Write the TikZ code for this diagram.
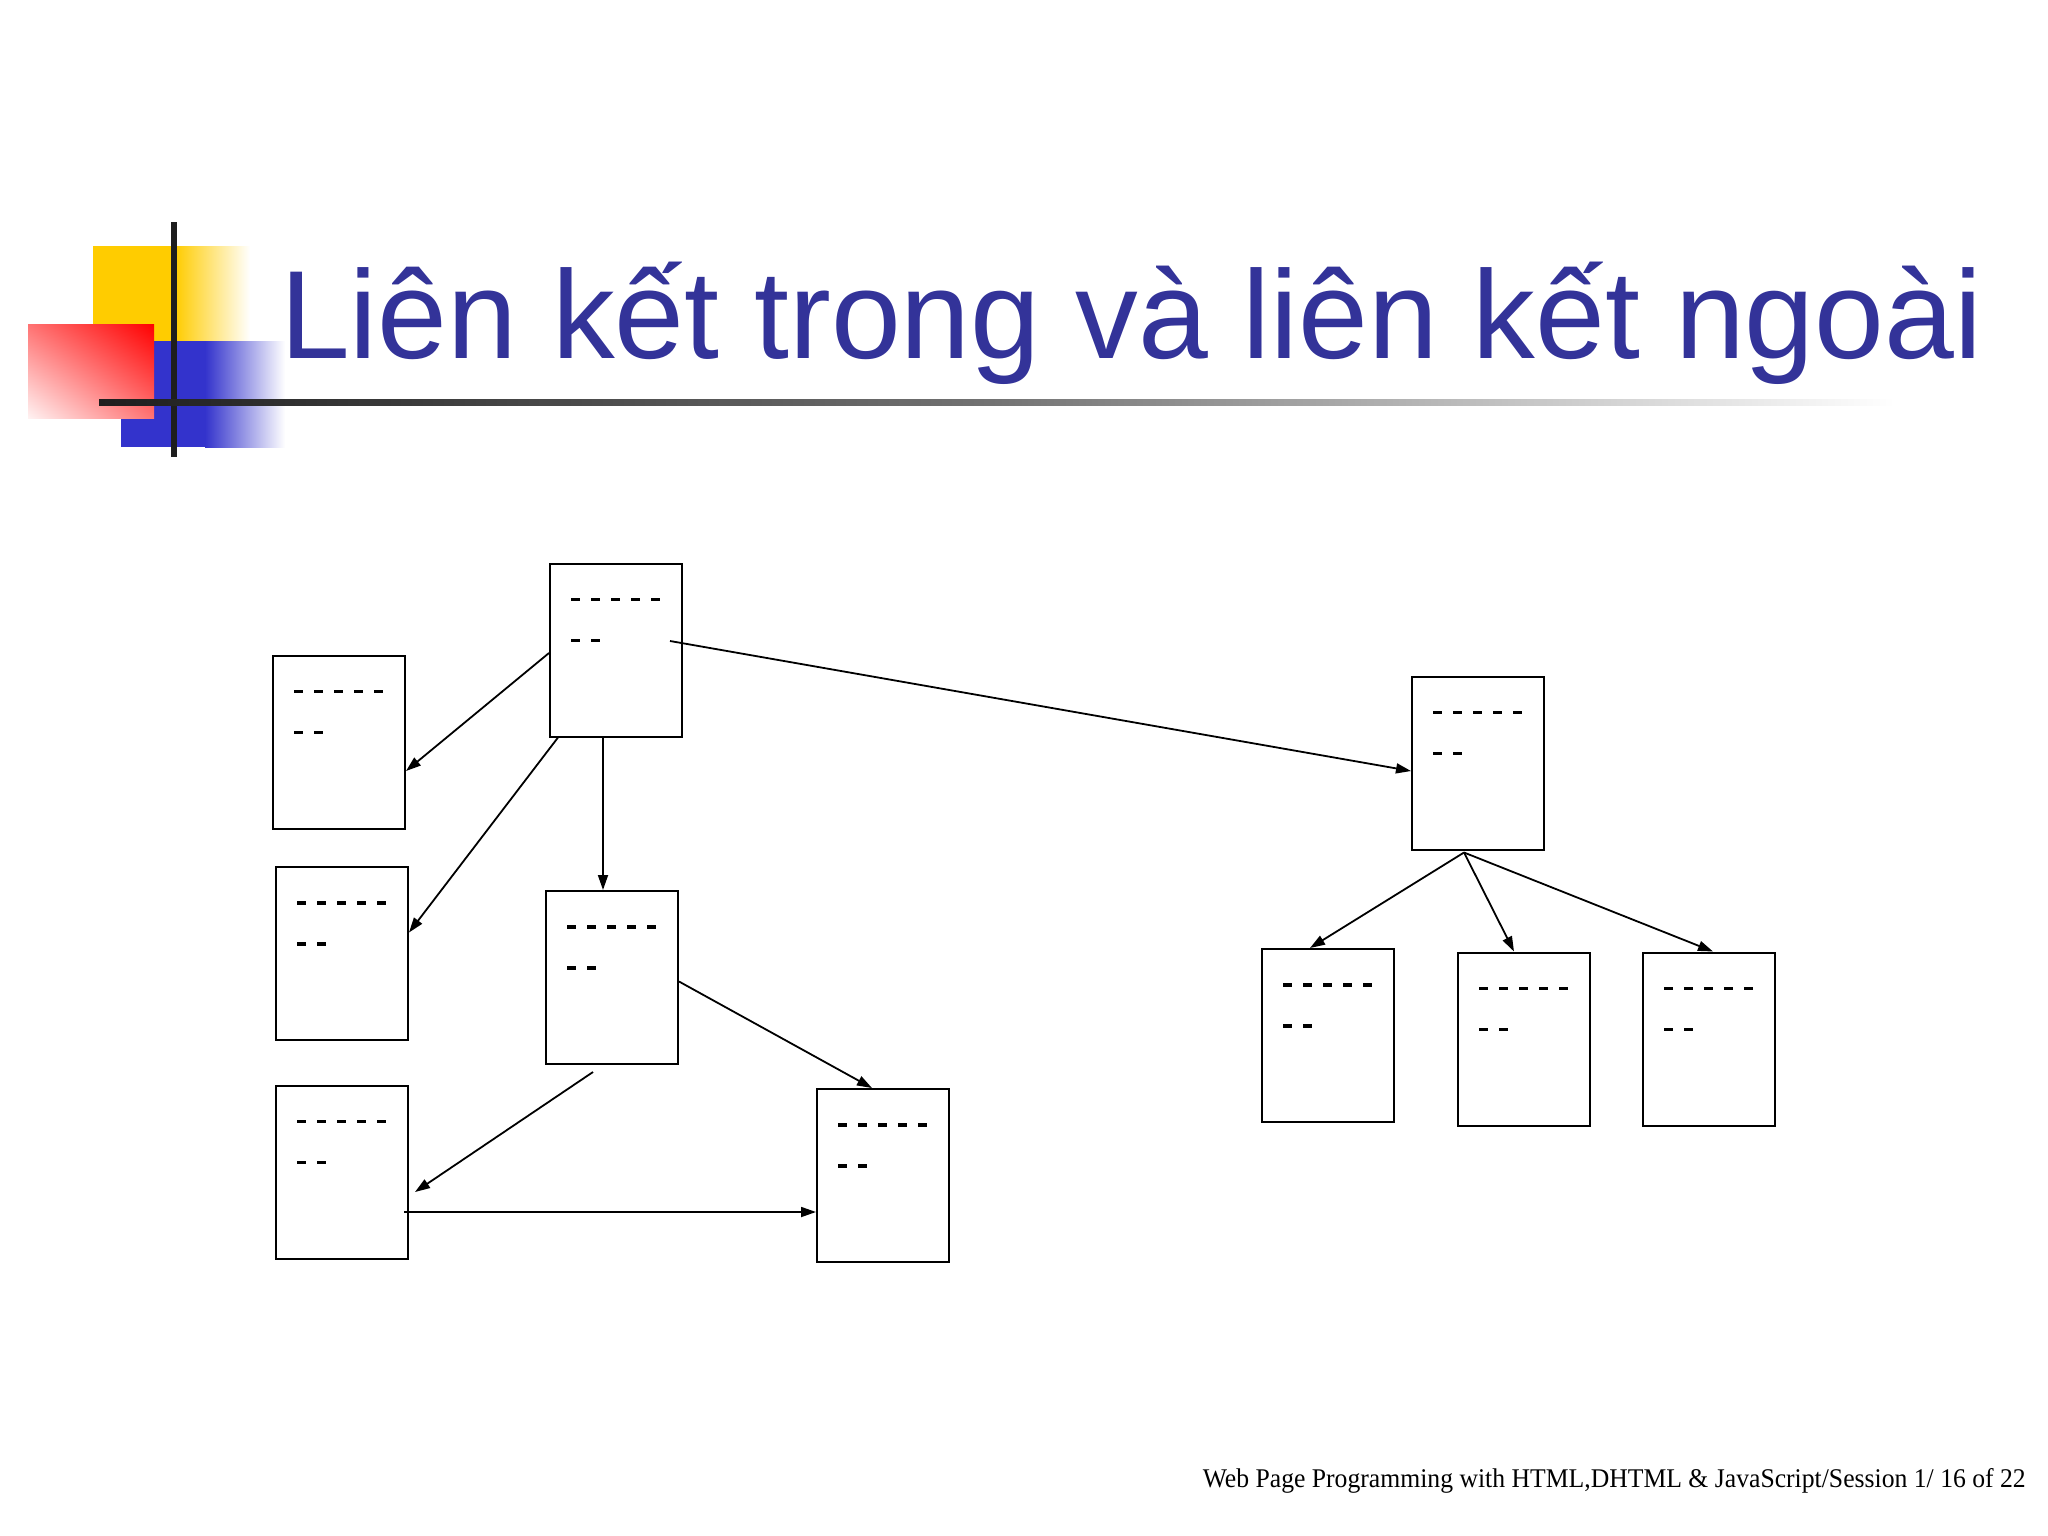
\documentclass[tikz,border=0pt]{standalone}
\usepackage{fontspec}
\setmainfont{Liberation Serif}
\newfontfamily\titlefont{Liberation Sans}
\usetikzlibrary{arrows.meta,shadings}
\definecolor{titleblue}{RGB}{51,51,153}
\definecolor{logoyellow}{RGB}{255,204,0}
\definecolor{logoblue}{RGB}{51,51,204}
\definecolor{barblack}{RGB}{30,30,30}
\tikzset{
  docbox/.style={draw=black,line width=2pt,minimum width=132pt,minimum height=173pt,inner sep=0pt,fill=white},
  dashline/.style={line width=3.3pt,dash pattern=on 9pt off 11pt},
  link/.style={line width=1.8pt,-{Triangle[length=15pt,width=10pt]}},
}
\newcommand\doclines[1]{%
  \draw[dashline] ([xshift=22pt,yshift=-37pt]#1.north west) -- ++(89pt,0);
  \draw[dashline] ([xshift=22pt,yshift=-78pt]#1.north west) -- ++(29pt,0);
}
\begin{document}
\begin{tikzpicture}[x=1pt,y=-1pt]
\useasboundingbox (0,0) rectangle (2048,1536);
\fill[white] (0,0) rectangle (2048,1536);
% logo
\shade[left color=logoyellow,right color=logoyellow] (93,246) rectangle (176,341);
\shade[left color=logoyellow,right color=white] (175,246) rectangle (250,341);
\fill[logoblue] (121,341) rectangle (206,447);
\shade[left color=logoblue,right color=white] (205,341) rectangle (285,447);
\shade[lower left=red!5,upper right=red,lower right=red!55,upper left=red!55] (28,324) rectangle (154,418);
\fill[barblack] (171,222) rectangle (177,457);
\shade[left color=barblack,right color=white,middle color=black!55] (99,399) rectangle (1895,405);
% title
\node[anchor=base west,inner sep=0pt,text=titleblue,font=\titlefont\fontsize{125.5pt}{125.5pt}\selectfont] (title) at (280,358) {Liên kết trong và liên kết ngoài};
% footer
\node[anchor=base east,inner sep=0pt] (footer) at (2026,1487) {\resizebox{823pt}{\height}{\fontsize{27pt}{27pt}\selectfont Web Page Programming with HTML,DHTML \& JavaScript/Session 1/ 16 of 22}};
% boxes
\node[docbox] (A) at (616,650) {};
\node[docbox] (B1) at (339,742) {};
\node[docbox] (B2) at (342,953.5) {};
\node[docbox] (B3) at (342,1172) {};
\node[docbox] (C) at (612,977.5) {};
\node[docbox] (D) at (883,1175.5) {};
\node[docbox] (E) at (1478,763) {};
\node[docbox] (R1) at (1328,1035.5) {};
\node[docbox] (R2) at (1524,1039) {};
\node[docbox] (R3) at (1709,1039) {};
\foreach \b in {A,B1,B2,B3,C,D,E,R1,R2,R3} {\doclines{\b}}
% links
\draw[link] ([yshift=-3pt]A.west) -- ([yshift=-29pt]B1.east);
\draw[link] ([xshift=9pt]A.south west) -- ([yshift=21pt]B2.east);
\draw[link] ([xshift=-13pt]A.south) -- ([xshift=-9pt]C.north);
\draw[link] ([xshift=-13pt,yshift=9pt]A.east) -- ([yshift=-8pt]E.west);
\draw[link] ([yshift=-4pt]C.east) -- ([xshift=-11pt]D.north);
\draw[link] ([xshift=-19pt,yshift=-7pt]C.south) -- ([xshift=6pt,yshift=-20pt]B3.east);
\coordinate (b3out) at ([xshift=-5pt,yshift=-40pt]B3.east);
\draw[link] (b3out) -- (b3out -| D.west);
\coordinate (efork) at ([xshift=-14pt,yshift=-2pt]E.south);
\draw[link] (efork) -- ([xshift=-18pt]R1.north);
\draw[link] (efork) -- ([xshift=-10pt]R2.north);
\draw[link] (efork) -- ([xshift=4pt]R3.north);
\end{tikzpicture}
\end{document}
